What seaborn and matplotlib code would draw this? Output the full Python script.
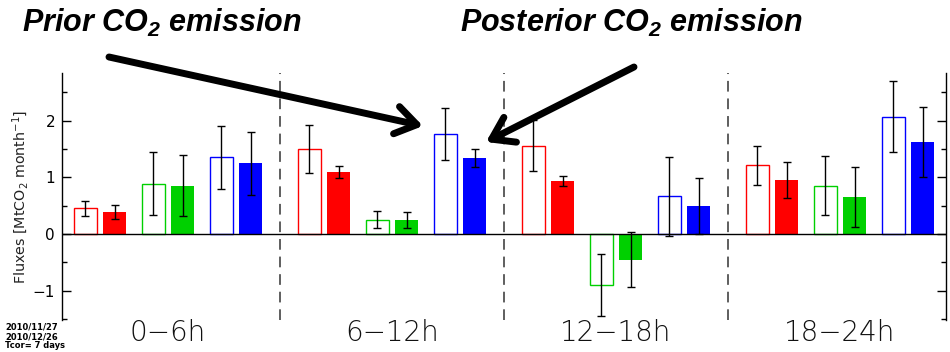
import numpy as np
import pandas as pd
import matplotlib
matplotlib.use("Agg")
import matplotlib.pyplot as plt
from matplotlib.patches import FancyArrowPatch
from matplotlib.ticker import MultipleLocator
from matplotlib import font_manager as fm
import seaborn as sns

# Time-of-day windows
windows = ["0\u22126h", "6\u221212h", "12\u221218h", "18\u221224h"]

# Three emission series, prior (open bars) and posterior (filled bars)
series_names = ["series 1", "series 2", "series 3"]
series_colors = ["#FF0000", "#00D000", "#0000FF"]

prior_s1 = [0.45, 1.50, 1.56, 1.21]
prior_s2 = [0.89, 0.25, -0.905, 0.85]
prior_s3 = [1.35, 1.76, 0.665, 2.07]
prior_s1_err = [0.135, 0.43, 0.445, 0.34]
prior_s2_err = [0.55, 0.15, 0.545, 0.52]
prior_s3_err = [0.56, 0.455, 0.70, 0.63]

post_s1 = [0.39, 1.09, 0.935, 0.95]
post_s2 = [0.85, 0.25, -0.45, 0.65]
post_s3 = [1.25, 1.34, 0.49, 1.62]
post_s1_err = [0.12, 0.105, 0.085, 0.315]
post_s2_err = [0.54, 0.14, 0.48, 0.525]
post_s3_err = [0.555, 0.16, 0.49, 0.615]

date_lines = ["2010/11/27", "2010/12/26", "Tcor= 7 days"]

# Layout within a window: three pairs, prior left / posterior right
pair_offset = [-0.3036, 0.0, 0.3036]
kind_offset = {"prior": -0.0656, "posterior": 0.0656}
bar_width = 0.105

rows = []
for kind, vals_all, errs_all in (
    ("prior", [prior_s1, prior_s2, prior_s3], [prior_s1_err, prior_s2_err, prior_s3_err]),
    ("posterior", [post_s1, post_s2, post_s3], [post_s1_err, post_s2_err, post_s3_err]),
):
    for s, (vals, errs) in enumerate(zip(vals_all, errs_all)):
        for g, (v, e) in enumerate(zip(vals, errs)):
            rows.append({
                "pos": g + pair_offset[s] + kind_offset[kind],
                "flux": v,
                "err": e,
                "series": series_names[s],
                "kind": kind,
            })
df = pd.DataFrame(rows)

sns.set_style("white")
available = {f.name for f in fm.fontManager.ttflist}
title_family = "Liberation Sans Narrow" if "Liberation Sans Narrow" in available else "Liberation Sans"
plt.rcParams["font.family"] = ["DejaVu Sans"]
plt.rcParams["text.color"] = "black"
plt.rcParams["axes.labelcolor"] = "black"
plt.rcParams["mathtext.fontset"] = "custom"
plt.rcParams["mathtext.bf"] = f"{title_family}:bold:italic"

fig = plt.figure(figsize=(9.5, 3.52), dpi=100)
W, H = 950, 352
ax = fig.add_axes([62 / W, (H - 320) / H, (946 - 62) / W, (320 - 73) / H])

for kind in ("prior", "posterior"):
    sub = df[df["kind"] == kind]
    unit = np.diff(np.unique(sub["pos"])).min()
    filled = kind == "posterior"
    sns.barplot(
        data=sub, x="pos", y="flux", hue="series",
        hue_order=series_names, palette=series_colors, saturation=1,
        native_scale=True, width=bar_width / unit, dodge=False,
        fill=filled, errorbar=None, legend=False,
        linewidth=0 if filled else 1.0, ax=ax,
    )

ax.errorbar(df["pos"], df["flux"], yerr=df["err"], fmt="none",
            ecolor="black", elinewidth=1.0, capsize=2.8, capthick=1.0, zorder=4)

ax.axhline(0, color="black", lw=1.0, zorder=3)
for xd in (0.5, 1.5, 2.5):
    ax.axvline(xd, color="#333333", lw=1.1, linestyle=(0, (7, 4.5)), zorder=0)

ax.set_xlim(-0.4732, 3.4732)
ax.set_ylim(-1.517, 2.84)
ax.set_xticks([])
ax.set_xlabel("")
ax.yaxis.set_major_locator(MultipleLocator(1))
ax.yaxis.set_minor_locator(MultipleLocator(0.5))
ax.tick_params(axis="y", which="both", direction="in", left=True, right=True,
               labelright=False, width=1.0, colors="black", labelsize=11, pad=5)
ax.tick_params(axis="y", which="major", length=6.5)
ax.tick_params(axis="y", which="minor", length=3.5)
for side in ("top", "bottom"):
    ax.spines[side].set_visible(False)
for side in ("left", "right"):
    ax.spines[side].set_color("black")
    ax.spines[side].set_linewidth(1.0)

ax.set_ylabel("Fluxes [MtCO$_2$ month$^{-1}$]", fontsize=10.3, labelpad=1,
              color="#222222")

for g, lab in enumerate(windows):
    ax.text(g, -0.085, lab, transform=ax.get_xaxis_transform(), ha="center",
            va="baseline", fontsize=20, fontweight=200, color="#111111")

for txt, ypx in zip(date_lines, (322.5, 332.0, 340.5)):
    fig.text(5 / W, (H - ypx) / H, txt, ha="left", va="top", fontsize=6.0,
             fontweight="bold", color="black")

title_kw = dict(ha="left", va="baseline", fontsize=22, fontweight="bold",
                fontstyle="italic", family=title_family, color="black")
fig.text(22 / W, (H - 32) / H, r"Prior CO$_\mathbf{2}$ emission", **title_kw)
fig.text(460 / W, (H - 32) / H, r"Posterior CO$_\mathbf{2}$ emission", **title_kw)

arrow_style = dict(arrowstyle="->, head_length=0.75, head_width=0.5", lw=5,
                   color="black", shrinkA=0, shrinkB=0, mutation_scale=20)
fig.add_artist(FancyArrowPatch(
    (109 / W, (H - 57) / H), (423 / W, (H - 126) / H),
    transform=fig.transFigure, **arrow_style))
fig.add_artist(FancyArrowPatch(
    (634 / W, (H - 67) / H), (486 / W, (H - 142) / H),
    transform=fig.transFigure, **arrow_style))

fig.savefig("out.png", dpi=100)
